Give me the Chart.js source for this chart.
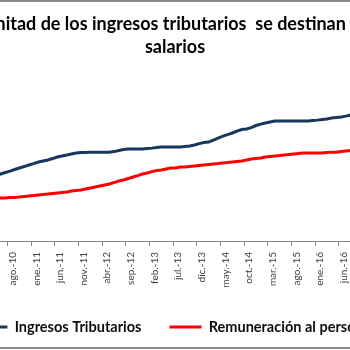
<!DOCTYPE html>
<html>
<head>
<meta charset="utf-8">
<script src="https://cdn.jsdelivr.net/npm/chart.js@4.4.1/dist/chart.umd.min.js"></script>
<style>
  html, body { margin: 0; padding: 0; background: #ffffff; }
  #frame { position: relative; width: 350px; height: 350px; overflow: hidden; background: #ffffff; }
  #c { position: absolute; left: -75px; top: 0; }
  .edge { position: absolute; left: 0; width: 350px; height: 2px; background: #8c8c8c; z-index: 2; }
</style>
</head>
<body>
<div id="frame">
  <canvas id="c" width="500" height="380"></canvas>
  <div class="edge" style="top:0"></div>
  <div class="edge" style="top:347px"></div>
</div>
<script>
const categories = [
  "may.-10","jun.-10","jul.-10","ago.-10","sep.-10","oct.-10","nov.-10","dic.-10",
  "ene.-11","feb.-11","mar.-11","abr.-11","may.-11","jun.-11","jul.-11","ago.-11","sep.-11","oct.-11","nov.-11","dic.-11",
  "ene.-12","feb.-12","mar.-12","abr.-12","may.-12","jun.-12","jul.-12","ago.-12","sep.-12","oct.-12","nov.-12","dic.-12",
  "ene.-13","feb.-13","mar.-13","abr.-13","may.-13","jun.-13","jul.-13","ago.-13","sep.-13","oct.-13","nov.-13","dic.-13",
  "ene.-14","feb.-14","mar.-14","abr.-14","may.-14","jun.-14","jul.-14","ago.-14","sep.-14","oct.-14","nov.-14","dic.-14",
  "ene.-15","feb.-15","mar.-15","abr.-15","may.-15","jun.-15","jul.-15","ago.-15","sep.-15","oct.-15","nov.-15","dic.-15",
  "ene.-16","feb.-16","mar.-16","abr.-16","may.-16","jun.-16","jul.-16","ago.-16"
];
const tickLabels = ["ago.-10","ene.-11","jun.-11","nov.-11","abr.-12","sep.-12","feb.-13",
  "jul.-13","dic.-13","may.-14","oct.-14","mar.-15","ago.-15","ene.-16","jun.-16"];
const ingresosTributarios = [
  37.6,38.5,39.4,40.2,41.1,42.0,42.8,43.7,44.5,45.4,46.0,46.6,47.4,48.3,48.9,49.4,50.0,50.6,50.9,50.9,
  51.1,51.1,51.1,51.1,51.1,51.4,52.0,52.6,52.9,52.9,52.9,52.9,53.2,53.4,53.7,54.0,54.0,54.0,54.0,54.0,
  54.3,54.6,55.2,56.0,56.6,56.9,58.0,59.2,60.3,61.2,62.1,63.2,64.1,64.4,65.2,66.4,67.2,67.8,68.4,69.0,
  69.0,69.0,69.0,69.0,69.0,69.0,69.0,69.3,69.5,69.8,70.1,70.7,71.0,71.3,71.8,72.4
];
const remuneracionPersonal = [
  24.4,24.7,24.7,25.0,25.0,25.3,25.6,25.9,26.1,26.4,26.7,27.0,27.3,27.6,27.9,28.2,28.7,29.0,29.3,29.9,
  30.5,31.0,31.6,32.2,32.8,33.6,34.5,35.1,35.9,36.8,37.6,38.5,39.1,39.9,40.5,40.8,41.4,42.0,42.0,42.5,
  42.5,42.8,43.1,43.4,43.7,44.0,44.3,44.5,44.8,45.1,45.4,45.7,46.0,46.6,47.1,47.4,47.7,48.3,48.6,48.9,
  49.1,49.4,49.7,50.0,50.3,50.6,50.6,50.6,50.6,50.6,50.9,51.1,51.1,51.4,51.7,52.0
];
const seriesNames = ["Ingresos Tributarios", "Remuneración al personal"];
const seriesColors = ["#17375E", "#FF0000"];
const titleLines = ["mitad de los ingresos tributarios  se destinan a", "salarios"];
const toPoints = arr => arr.map((v, i) => ({ x: i, y: v }));

new Chart(document.getElementById('c'), {
  type: 'line',
  data: {
    datasets: [
      { label: seriesNames[0], data: toPoints(ingresosTributarios), borderColor: seriesColors[0], backgroundColor: seriesColors[0],
        borderWidth: 3, pointRadius: 0, tension: 0, fill: false },
      { label: seriesNames[1], data: toPoints(remuneracionPersonal), borderColor: seriesColors[1], backgroundColor: seriesColors[1],
        borderWidth: 3, pointRadius: 0, tension: 0, fill: false }
    ]
  },
  options: {
    responsive: false, animation: false, devicePixelRatio: 1,
    layout: { padding: { left: 0, right: 0, top: 0, bottom: 35.75 } },
    plugins: {
      title: { display: true, text: titleLines, color: '#000000',
        font: { family: 'Lato', size: 18, weight: 'bold', lineHeight: 1.28 }, padding: { top: 13, bottom: 8 } },
      legend: { display: true, position: 'bottom', align: 'center',
        labels: { boxWidth: 32, boxHeight: 3, padding: 28, color: '#0d0d0d',
          font: { family: 'Lato', size: 14.5, weight: 'bold' },
          generateLabels: (chart) => Chart.defaults.plugins.legend.labels.generateLabels(chart).map(l => Object.assign(l, { lineWidth: 0 })) } },
      tooltip: { enabled: false }
    },
    scales: {
      x: { type: 'linear', min: -14.97, max: 90.74,
        afterBuildTicks: (scale) => { scale.ticks = tickLabels.map(t => ({ value: categories.indexOf(t) - 0.5 })); },
        afterFit: (scale) => { scale.height = 50.75; },
        ticks: { autoSkip: false, minRotation: 90, maxRotation: 90, labelOffset: 5, padding: 6, color: '#404040',
          font: { family: 'Lato', size: 10 }, callback: (v) => categories[Math.round(v + 0.5)] },
        grid: { drawOnChartArea: false, drawTicks: true, tickLength: 5, color: '#868686' },
        border: { display: true, color: '#868686', width: 1 } },
      y: { display: false, min: 0, max: 100 }
    }
  }
});
</script>
</body>
</html>
